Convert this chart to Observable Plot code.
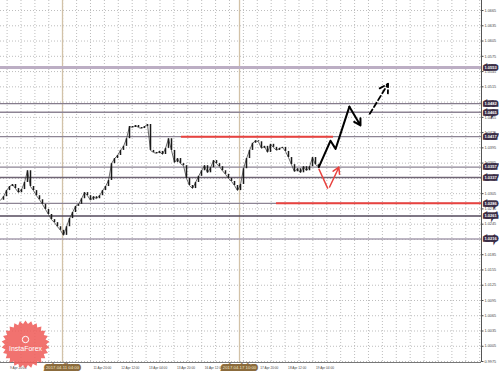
<!DOCTYPE html>
<html>
<head>
<meta charset="utf-8">
<script src="https://cdn.jsdelivr.net/npm/d3@7"></script>
<script src="https://cdn.jsdelivr.net/npm/@observablehq/plot@0.6"></script>
<style>
  html, body { margin: 0; padding: 0; background: #fff; }
  #chart svg { display: block; }
</style>
</head>
<body>
<div id="chart"></div>
<script>
// ---- data ----
const closes = [
  1.0292, 1.0299, 1.0311, 1.0319, 1.0323, 1.0315, 1.0307, 1.0313, 1.0327, 1.0350,
  1.0319, 1.0311, 1.0301, 1.0293, 1.0284, 1.0274, 1.0264, 1.0254, 1.0248, 1.0240,
  1.0233, 1.0223, 1.0240, 1.0256, 1.0268, 1.0280, 1.0284, 1.0295, 1.0307, 1.0301,
  1.0292, 1.0299, 1.0295, 1.0301, 1.0311, 1.0319, 1.0331, 1.0364, 1.0374, 1.0380,
  1.0390, 1.0398, 1.0413, 1.0437, 1.0435, 1.0439, 1.0435, 1.0433, 1.0437, 1.0441,
  1.0390, 1.0386, 1.0384, 1.0388, 1.0382, 1.0394, 1.0413, 1.0390, 1.0366, 1.0374,
  1.0364, 1.0360, 1.0335, 1.0321, 1.0315, 1.0327, 1.0339, 1.0350, 1.0360, 1.0346,
  1.0356, 1.0370, 1.0364, 1.0358, 1.0350, 1.0343, 1.0335, 1.0329, 1.0321, 1.0311,
  1.0323, 1.0354, 1.0374, 1.0390, 1.0404, 1.0409, 1.0407, 1.0394, 1.0398, 1.0386,
  1.0402, 1.0396, 1.0390, 1.0394, 1.0396, 1.0388, 1.0376, 1.0362, 1.0348, 1.0354,
  1.0346, 1.0358, 1.0350, 1.0358, 1.0376, 1.0362, 1.0358
];
const levels = [1.0553, 1.0482, 1.0465, 1.0417, 1.0357, 1.0337, 1.0286, 1.0261, 1.0216];
const redLevels = [1.0417, 1.0286];
const redFrom = [60.3, 92];
const redTo = [111, 160.33];
const pathBars = [106.1, 110, 111.7, 116.3];
const pathPrices = [1.0357, 1.0409, 1.0393, 1.0476];
const pathArrowEnd = [120, 1.0439];
const dashedFrom = [123.1, 1.0462];
const dashedTo = [129.2, 1.0521];
const redDownFrom = [106.1, 1.0354];
const redDownTo = [109.1, 1.0315];
const redUpFrom = [109.7, 1.0318];
const redUpTo = [112.8, 1.0357];
const separators = [20.67, 79.67];
const separatorLabels = ["2017.04.11 04:00", "2017.04.17 10:00"];
const yTicks = d3.range(0, 24).map(i => +(0.9975 + i * 0.003).toFixed(4));
// visible time labels (the ones under the separator boxes are hidden, as in the reference)
const xTickPos = [2.2, 30.0, 39.27, 48.53, 57.8, 67.07, 85.6, 94.87, 104.13];
const xTickLabels = ["9 Apr 20:00", "11 Apr 20:00", "12 Apr 12:00",
  "13 Apr 04:00", "13 Apr 20:00", "16 Apr 12:00", "17 Apr 20:00", "18 Apr 12:00", "19 Apr 04:00"];
const xGrid = d3.range(0, 35).map(i => 2.2 + i * 4.633);

const X_MAX = 160.33;
const Y_MIN = 0.99731, Y_MAX = 1.06847;

const levelStroke = ["#bcaec4", "#857b8c", "#8d8494", "#8d8494", "#8d8494", "#6f6474", "#8d8494", "#544a5c", "#a79eaf"];
const levelWidth = [3, 1.3, 1.3, 1.3, 1.3, 1.5, 1.3, 1.6, 1.6];

const shownTicks = yTicks.filter(t => levels.every(l => Math.abs(l - t) > 0.0004));

const starburst = {
  draw(context, size) {
    const R = Math.sqrt(size / Math.PI);
    const n = 26;
    for (let k = 0; k < 2 * n; k++) {
      const a = (k * Math.PI) / n;
      const r = k % 2 === 0 ? R : R * 0.86;
      const px = r * Math.sin(a), py = -r * Math.cos(a);
      if (k === 0) context.moveTo(px, py); else context.lineTo(px, py);
    }
    context.closePath();
  }
};

const fmt = d3.format(".4f");
const seg = (a, b) => [{x1: a[0], y1: a[1], x2: b[0], y2: b[1]}];
const FONT = "Liberation Sans, Arial, sans-serif";

const chart = Plot.plot({
  width: 499,
  height: 372,
  marginLeft: 0,
  marginRight: 18,
  marginTop: 0,
  marginBottom: 10,
  x: {type: "linear", domain: [0, X_MAX], axis: null},
  y: {type: "linear", domain: [Y_MIN, Y_MAX], axis: null},
  style: {background: "#ffffff", fontFamily: FONT},
  marks: [
    Plot.gridY(yTicks, {stroke: "#bdbdbd", strokeOpacity: 1, strokeDasharray: "1,2"}),
    Plot.gridX(xGrid, {stroke: "#bdbdbd", strokeOpacity: 1, strokeDasharray: "1,2"}),
    Plot.ruleX(separators, {x: d => d, stroke: "#d2c2a8", strokeWidth: 1.3}),
    Plot.ruleY(levels, {y: d => d, stroke: (d, i) => levelStroke[i], strokeWidth: (d, i) => levelWidth[i]}),
    Plot.ruleY(redLevels, {y: d => d, x1: (d, i) => redFrom[i], x2: (d, i) => redTo[i], stroke: "#e8423f", strokeWidth: 2}),
    // price: candle bodies from previous close plus a connecting line
    Plot.line(closes, {x: (d, i) => i, y: d => d, stroke: "#444", strokeWidth: 0.8}),
    Plot.ruleX(closes.slice(1), {x: (d, i) => i + 1, y1: (d, i) => closes[i], y2: d => d, stroke: "#1a1a1a", strokeWidth: 1.5}),
    // projections
    Plot.line(pathBars.map((b, i) => ({b, p: pathPrices[i]})), {x: "b", y: "p", stroke: "#000", strokeWidth: 2}),
    Plot.arrow(seg([pathBars[3], pathPrices[3]], pathArrowEnd), {x1: "x1", y1: "y1", x2: "x2", y2: "y2", stroke: "#000", strokeWidth: 2, headLength: 7}),
    Plot.arrow(seg(dashedFrom, dashedTo), {x1: "x1", y1: "y1", x2: "x2", y2: "y2", stroke: "#000", strokeWidth: 1.8, strokeDasharray: "5,3", headLength: 8}),
    Plot.link(seg(redDownFrom, redDownTo), {x1: "x1", y1: "y1", x2: "x2", y2: "y2", stroke: "#e8423f", strokeWidth: 1.5}),
    Plot.arrow(seg(redUpFrom, redUpTo), {x1: "x1", y1: "y1", x2: "x2", y2: "y2", stroke: "#e8423f", strokeWidth: 1.5, headLength: 7}),
    // frame lines
    Plot.ruleX([X_MAX], {x: d => d, stroke: "#555", strokeWidth: 1}),
    Plot.ruleY([Y_MIN], {y: d => d, stroke: "#777", strokeWidth: 1}),
    // right axis
    Plot.axisY(shownTicks, {anchor: "right", tickFormat: fmt, fontSize: 3.8, tickSize: 1.5, tickPadding: 1.5, color: "#444"}),
    // level price boxes
    Plot.text(levels, {x: () => X_MAX, y: d => d, text: d => fmt(d), dx: 3, textAnchor: "start", fontSize: 4, fontWeight: "bold",
      fill: "#ffffff", stroke: "#3b2e46", strokeWidth: 3.6, strokeLinejoin: "miter"}),
    // bottom axis labels
    Plot.text(xTickPos, {x: d => d, y: null, text: (d, i) => xTickLabels[i], frameAnchor: "bottom", dy: 6, dx: 3, textAnchor: "start", fontSize: 3.2, fill: "#444"}),
    Plot.text(separators, {x: d => d, y: null, text: (d, i) => separatorLabels[i], frameAnchor: "bottom", dy: 6, fontSize: 4.3,
      fill: "#f4e8cc", stroke: "#8b6b3c", strokeWidth: 4, strokeLinejoin: "miter"}),
    // InstaForex badge
    Plot.dot([0], {x: null, y: null, frameAnchor: "bottom-left", dx: 25, dy: -18, r: 24, fill: "#ef5f5b", fillOpacity: 0.88, symbol: starburst}),
    Plot.dot([0], {x: null, y: null, frameAnchor: "bottom-left", dx: 25, dy: -23, r: 3.2, stroke: "#fff", fill: "none", strokeWidth: 1}),
    Plot.text(["InstaForex"], {x: null, y: null, frameAnchor: "bottom-left", dx: 25, dy: -12, text: d => d, textAnchor: "middle", fill: "#fff", fontSize: 7})
  ]
});
document.getElementById("chart").append(chart);
</script>
</body>
</html>
